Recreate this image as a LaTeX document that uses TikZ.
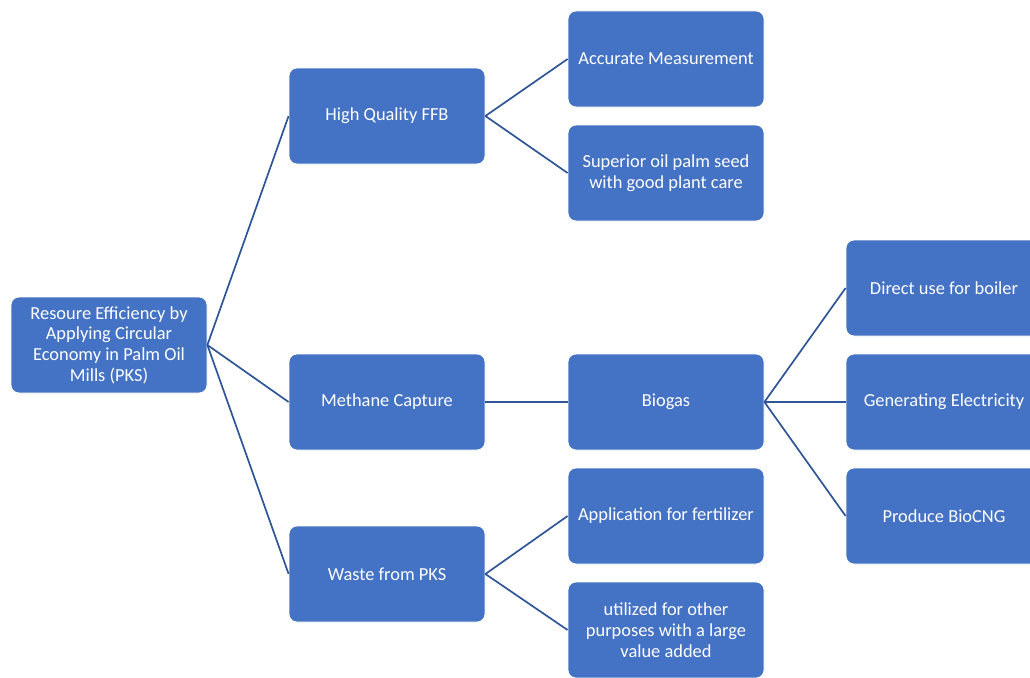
\documentclass[tikz,border=0pt]{standalone}
\usepackage{fontspec}
\setmainfont{Carlito}
\definecolor{boxblue}{HTML}{4472C4}
\definecolor{linkblue}{HTML}{2F5597}
\begin{document}
\begin{tikzpicture}[x=1pt,y=-1pt,
  box/.style={draw=white,line width=0.8pt,fill=boxblue,rounded corners=8pt,
    minimum width=196pt,minimum height=96pt,inner sep=0pt,align=center,
    text=white,font=\fontsize{18.4}{20.7}\selectfont},
  link/.style={draw=linkblue,line width=1.7pt}]
\useasboundingbox (0,0) rectangle (1030,677);
% root
\node[box] (root) at (109,345) {Resoure Efficiency by\\Applying Circular\\Economy in Palm Oil\\Mills (PKS)};
% first level
\node[box] (ffb) at (387,116) {High Quality FFB};
\node[box] (meth) at (387,402) {Methane Capture};
\node[box] (waste) at (387,574) {Waste from PKS};
% second level
\node[box] (meas) at (666,59) {Accurate Measurement};
\node[box] (seed) at (666,173) {Superior oil palm seed\\with good plant care};
\node[box] (bio) at (666,402) {Biogas};
\node[box] (fert) at (666,516) {Application for fertilizer};
\node[box] (other) at (666,630) {utilized for other\\purposes with a large\\value added};
% third level
\node[box] (boiler) at (944,288) {Direct use for boiler};
\node[box] (elec) at (944,402) {Generating Electricity};
\node[box] (cng) at (944,516) {Produce BioCNG};
% connectors
\foreach \a/\b in {root/ffb,root/meth,root/waste,ffb/meas,ffb/seed,meth/bio,
  bio/boiler,bio/elec,bio/cng,waste/fert,waste/other}
  \draw[link] (\a.east) -- (\b.west);
\end{tikzpicture}
\end{document}
